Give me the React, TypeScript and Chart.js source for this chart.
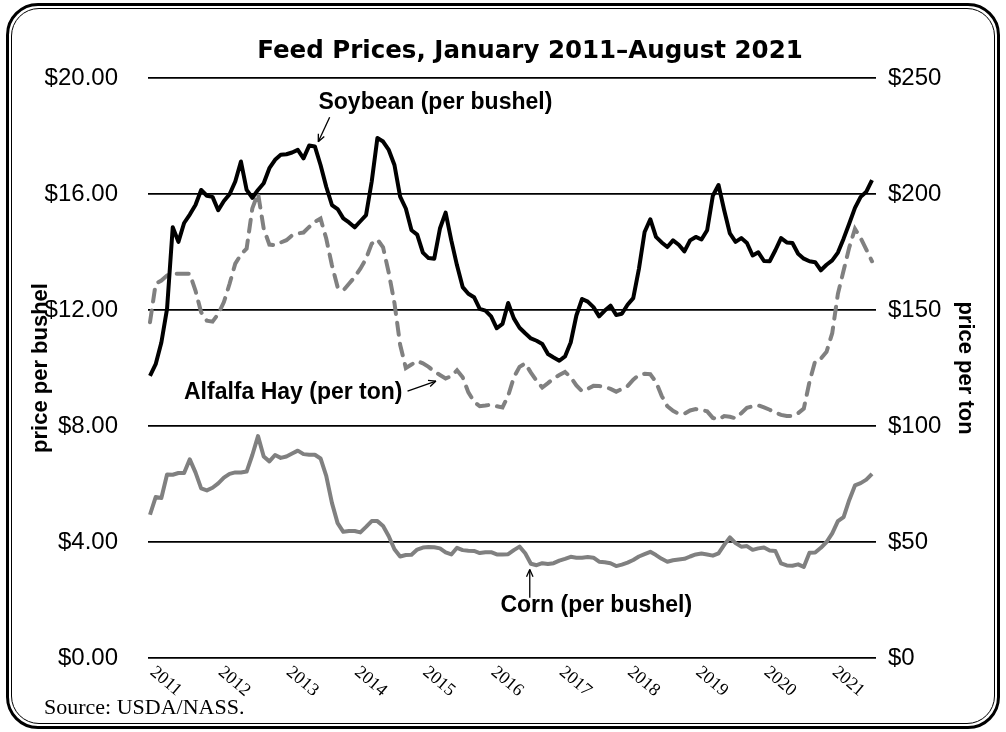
import React, { useEffect, useRef } from 'react';
import { Chart, registerables } from 'chart.js';

Chart.register(...registerables);

// ---- Data (monthly, January 2011 – August 2021) ----
const YEAR_LABELS = ['2011', '2012', '2013', '2014', '2015', '2016', '2017', '2018', '2019', '2020', '2021'];
const MONTH_NAMES = ['Jan', 'Feb', 'Mar', 'Apr', 'May', 'Jun', 'Jul', 'Aug', 'Sep', 'Oct', 'Nov', 'Dec'];
const MONTH_LABELS: string[] = [];
YEAR_LABELS.forEach((yr) => MONTH_NAMES.forEach((m) => MONTH_LABELS.push(`${m} ${yr}`)));
MONTH_LABELS.splice(128);

// Soybean, $ per bushel (left axis)
const SOYBEAN = [
  9.73, 10.13, 10.88, 12.04, 14.85, 14.35, 15.0, 15.29, 15.62, 16.14, 15.94, 15.9,
  15.44, 15.76, 15.99, 16.43, 17.12, 16.14, 15.87, 16.14, 16.37, 16.89, 17.18, 17.35,
  17.37, 17.43, 17.52, 17.23, 17.67, 17.64, 17.0, 16.25, 15.62, 15.48, 15.16, 15.02,
  14.85, 15.06, 15.27, 16.43, 17.93, 17.81, 17.52, 17.0, 15.91, 15.5, 14.75, 14.6,
  13.98, 13.79, 13.77, 14.81, 15.36, 14.4, 13.54, 12.79, 12.56, 12.44, 12.04, 11.98,
  11.78, 11.37, 11.52, 12.24, 11.71, 11.39, 11.2, 11.02, 10.94, 10.83, 10.48, 10.36,
  10.25, 10.4, 10.88, 11.81, 12.38, 12.29, 12.1, 11.78, 11.98, 12.15, 11.83, 11.87,
  12.18, 12.41, 13.42, 14.69, 15.13, 14.52, 14.33, 14.17, 14.4, 14.25, 14.02, 14.4,
  14.52, 14.43, 14.75, 15.94, 16.31, 15.44, 14.64, 14.35, 14.48, 14.31, 13.88, 13.99,
  13.69, 13.68, 14.06, 14.48, 14.33, 14.31, 13.94, 13.77, 13.68, 13.65, 13.37, 13.56,
  13.71, 13.98, 14.46, 14.98, 15.52, 15.9, 16.08, 16.48,
];

// Alfalfa hay, $ per ton (right axis)
const ALFALFA_HAY = [
  144.7, 161.3, 162.7, 164.9, 165.6, 165.6, 165.6, 165.6, 158.4, 149.0, 145.4, 145.0,
  148.3, 153.4, 161.3, 170.0, 173.9, 176.5, 193.8, 200.3, 185.1, 178.2, 177.9, 179.1,
  180.1, 182.2, 183.0, 183.4, 185.8, 188.0, 189.4, 180.8, 169.3, 159.9, 158.4, 161.3,
  164.2, 167.8, 172.1, 178.6, 180.4, 177.0, 166.0, 153.0, 135.0, 125.0, 126.5, 128.0,
  127.0, 125.5, 123.5, 122.0, 120.5, 121.5, 124.0, 121.0, 114.5, 110.5, 108.5, 108.8,
  109.2, 108.5, 108.0, 113.0, 121.0, 125.5, 127.0, 123.0, 119.5, 116.6, 118.5, 120.5,
  122.0, 123.3, 121.0, 117.5, 115.0, 116.0, 117.3, 117.2, 117.0, 116.0, 114.8, 116.0,
  117.2, 120.0, 122.0, 122.5, 122.3, 119.0, 113.0, 108.5, 106.5, 105.3, 105.3, 106.7,
  107.3, 107.0, 106.3, 103.5, 102.8, 104.3, 104.0, 103.3, 105.5, 107.8, 108.5, 108.9,
  108.0, 107.0, 105.8, 104.8, 104.3, 104.3, 105.5, 107.5, 119.0, 128.0, 129.0, 132.0,
  140.0, 157.0, 167.0, 177.0, 185.0, 181.0, 176.0, 171.0,
];

// Corn, $ per bushel (left axis)
const CORN = [
  4.94, 5.55, 5.52, 6.33, 6.32, 6.38, 6.38, 6.85, 6.4, 5.85, 5.78, 5.87,
  6.02, 6.22, 6.35, 6.4, 6.4, 6.43, 7.0, 7.65, 6.95, 6.78, 7.0, 6.9,
  6.95, 7.05, 7.15, 7.03, 7.01, 7.01, 6.88, 6.28, 5.35, 4.65, 4.35, 4.38,
  4.38, 4.33, 4.52, 4.72, 4.72, 4.55, 4.2, 3.75, 3.5, 3.55, 3.56, 3.74,
  3.81, 3.83, 3.82, 3.78, 3.64, 3.57, 3.8, 3.72, 3.7, 3.69, 3.62, 3.65,
  3.65, 3.57, 3.57, 3.58, 3.72, 3.84, 3.61, 3.25, 3.2, 3.27, 3.24, 3.27,
  3.36, 3.42, 3.49, 3.46, 3.46, 3.48, 3.46, 3.32, 3.3, 3.27, 3.17, 3.22,
  3.29, 3.38, 3.5, 3.58, 3.66, 3.55, 3.42, 3.32, 3.37, 3.4, 3.42, 3.5,
  3.57, 3.6, 3.57, 3.53, 3.61, 3.9, 4.16, 3.96, 3.84, 3.86, 3.73, 3.78,
  3.81, 3.71, 3.69, 3.26, 3.19, 3.18, 3.23, 3.14, 3.63, 3.64, 3.8, 4.0,
  4.3, 4.72, 4.86, 5.45, 5.95, 6.03, 6.15, 6.35,
];

const LEFT_TICK_STEP = 4; // $0.00 … $20.00
const RIGHT_TICK_STEP = 50; // $0 … $250

// ---- Styling / layout ----
const FONT_SANS = '"Liberation Sans", Arial, Helvetica, sans-serif';
const FONT_SERIF = '"Liberation Serif", "Times New Roman", serif';
const GRAY = '#808080';

const SERIES_NOTES = [
  { text: 'Soybean (per bushel)', at: [50.2, 19.14], from: [31.6, 18.65], to: [29.6, 17.8] },
  { text: 'Alfalfa Hay (per ton)', at: [25.2, 9.16], from: [45.3, 9.2], to: [50.3, 9.55] },
  { text: 'Corn (per bushel)', at: [78.5, 1.82], from: [66.8, 2.08], to: [66.8, 3.05] },
];

function drawArrow(ctx: CanvasRenderingContext2D, x1: number, y1: number, x2: number, y2: number) {
  const ang = Math.atan2(y2 - y1, x2 - x1);
  const head = 8;
  ctx.beginPath();
  ctx.moveTo(x1, y1);
  ctx.lineTo(x2, y2);
  ctx.stroke();
  ctx.beginPath();
  ctx.moveTo(x2, y2);
  ctx.lineTo(x2 - head * Math.cos(ang - 0.42), y2 - head * Math.sin(ang - 0.42));
  ctx.moveTo(x2, y2);
  ctx.lineTo(x2 - head * Math.cos(ang + 0.42), y2 - head * Math.sin(ang + 0.42));
  ctx.stroke();
}

const notesPlugin = {
  id: 'seriesNotes',
  afterDatasetsDraw(chart: any) {
    const { ctx } = chart;
    const xs = chart.scales.x;
    const ys = chart.scales.y;
    ctx.save();
    ctx.font = `bold 23px ${FONT_SANS}`;
    ctx.fillStyle = '#000';
    ctx.strokeStyle = '#000';
    ctx.lineWidth = 1.3;
    ctx.textAlign = 'center';
    ctx.textBaseline = 'middle';
    SERIES_NOTES.forEach((n) => {
      ctx.fillText(n.text, xs.getPixelForValue(n.at[0]), ys.getPixelForValue(n.at[1]));
      drawArrow(
        ctx,
        xs.getPixelForValue(n.from[0]),
        ys.getPixelForValue(n.from[1]),
        xs.getPixelForValue(n.to[0]),
        ys.getPixelForValue(n.to[1])
      );
    });
    ctx.restore();
  },
};

const yearLabelPlugin = {
  id: 'yearLabels',
  afterDraw(chart: any) {
    const { ctx } = chart;
    const xs = chart.scales.x;
    const ys = chart.scales.y;
    ctx.save();
    ctx.font = `18px ${FONT_SERIF}`;
    ctx.fillStyle = '#000';
    ctx.textAlign = 'left';
    ctx.textBaseline = 'top';
    YEAR_LABELS.forEach((lab, k) => {
      const px = xs.getPixelForValue(k * 12);
      ctx.save();
      ctx.translate(px + 8, ys.bottom + 5);
      ctx.rotate((40 * Math.PI) / 180);
      ctx.fillText(lab, 0, 0);
      ctx.restore();
    });
    ctx.restore();
  },
};

export default function App() {
  const canvasRef = useRef<HTMLCanvasElement | null>(null);

  useEffect(() => {
    if (!canvasRef.current) return;
    const toPoints = (arr: number[]) => arr.map((v, i) => ({ x: i, y: v }));
    const chart = new Chart(canvasRef.current, {
      type: 'line',
      data: {
        labels: MONTH_LABELS,
        datasets: [
          {
            label: 'Soybean (per bushel)',
            data: toPoints(SOYBEAN),
            borderColor: '#000',
            borderWidth: 4,
            pointRadius: 0,
            tension: 0,
            borderJoinStyle: 'round',
            yAxisID: 'y',
          },
          {
            label: 'Alfalfa Hay (per ton)',
            data: toPoints(ALFALFA_HAY),
            borderColor: GRAY,
            borderWidth: 4,
            borderDash: [12, 9],
            borderCapStyle: 'round',
            pointRadius: 0,
            tension: 0,
            yAxisID: 'y1',
          },
          {
            label: 'Corn (per bushel)',
            data: toPoints(CORN),
            borderColor: GRAY,
            borderWidth: 4,
            pointRadius: 0,
            tension: 0,
            borderJoinStyle: 'round',
            yAxisID: 'y',
          },
        ],
      },
      options: {
        responsive: false,
        animation: false,
        events: [],
        layout: { padding: { top: 78, left: 28, right: 28, bottom: 74 } },
        plugins: {
          legend: { display: false },
          tooltip: { enabled: false },
          title: { display: false },
        },
        scales: {
          x: {
            type: 'linear',
            display: false,
            min: -0.35,
            max: 127.7,
          },
          y: {
            position: 'left',
            min: 0,
            max: 20,
            afterFit: (s: any) => {
              s.width = 120;
            },
            border: { display: false },
            grid: { color: '#000', lineWidth: 1.8, drawTicks: false },
            ticks: {
              stepSize: LEFT_TICK_STEP,
              padding: 30,
              color: '#000',
              font: { family: FONT_SANS, size: 24 },
              callback: (v: any) => '$' + Number(v).toFixed(2),
            },
            title: {
              display: true,
              text: 'price per bushel',
              color: '#000',
              font: { family: FONT_SANS, size: 22, weight: 'bold' },
              padding: { top: 0, bottom: 0 },
            },
          },
          y1: {
            position: 'right',
            min: 0,
            max: 250,
            afterFit: (s: any) => {
              s.width = 102;
            },
            border: { display: false },
            grid: { display: false, drawTicks: false },
            ticks: {
              stepSize: RIGHT_TICK_STEP,
              padding: 12,
              color: '#000',
              font: { family: FONT_SANS, size: 24 },
              callback: (v: any) => '$' + Number(v).toFixed(0),
            },
            title: {
              display: true,
              text: 'price per ton',
              color: '#000',
              font: { family: FONT_SANS, size: 22, weight: 'bold' },
              padding: { top: 0, bottom: 0 },
            },
          },
        },
      },
      plugins: [notesPlugin, yearLabelPlugin],
    } as any);
    return () => chart.destroy();
  }, []);

  return (
    <div style={{ position: 'fixed', left: 0, top: 0, width: 1006, height: 732, background: '#fff' }}>
      <canvas ref={canvasRef} width={1006} height={732} style={{ position: 'absolute', left: 0, top: 0 }} />
      <div
        style={{
          position: 'absolute',
          left: 0,
          top: 30,
          width: 1060,
          textAlign: 'center',
          fontFamily: '"DejaVu Sans", Verdana, sans-serif',
          fontWeight: 'bold',
          fontSize: 24.5,
          color: '#000',
          lineHeight: '40px',
        }}
      >
        Feed Prices, January 2011–August 2021
      </div>
      <div
        style={{
          position: 'absolute',
          left: 44,
          top: 694,
          fontFamily: FONT_SERIF,
          fontSize: 22,
          color: '#000',
          lineHeight: '26px',
        }}
      >
        Source: USDA/NASS.
      </div>
      <div
        style={{
          position: 'absolute',
          left: 6,
          top: 3,
          width: 994,
          height: 726,
          boxSizing: 'border-box',
          border: '3px solid #000',
          borderRadius: 32,
          pointerEvents: 'none',
        }}
      />
      <div
        style={{
          position: 'absolute',
          left: 11,
          top: 8,
          width: 984,
          height: 716,
          boxSizing: 'border-box',
          border: '1.5px solid #000',
          borderRadius: 28,
          pointerEvents: 'none',
        }}
      />
    </div>
  );
}
